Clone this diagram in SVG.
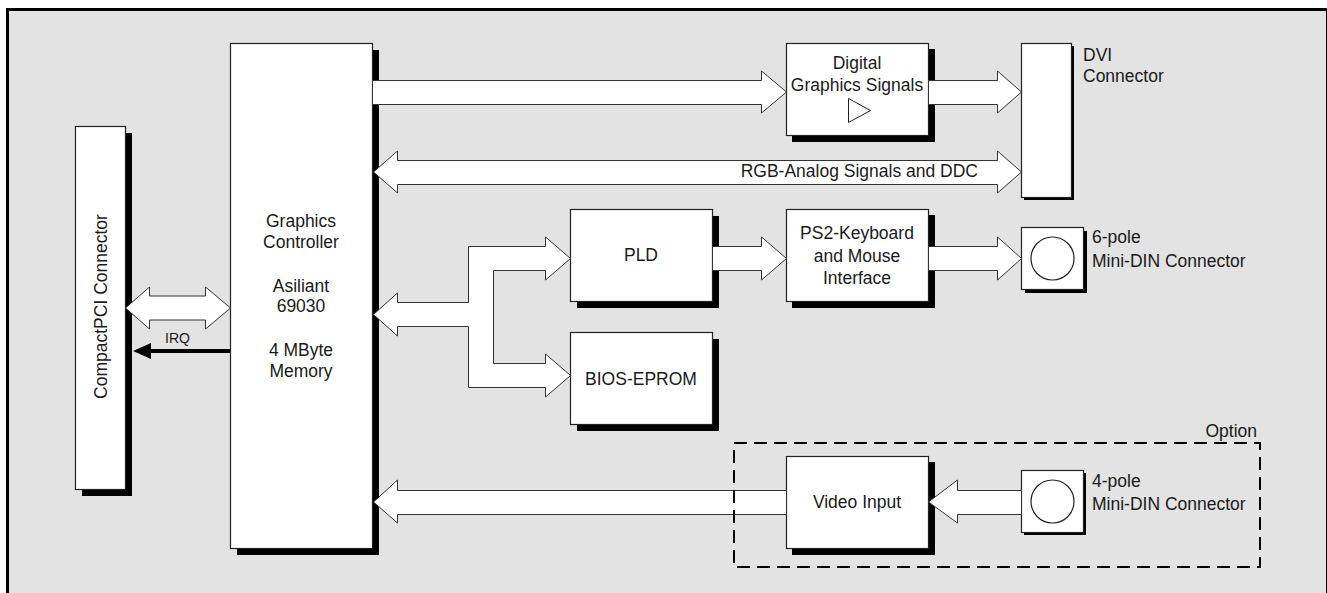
<svg xmlns="http://www.w3.org/2000/svg" width="1327" height="593" viewBox="0 0 1327 593">
<style>
text{font-family:"Liberation Sans",Arial,Helvetica,sans-serif;font-size:17.5px;fill:#1a1a1a}
.c{text-anchor:middle}
.box{fill:#fff;stroke:#222;stroke-width:1.2}
.sh{fill:#000}
.arr{fill:#fff;stroke:#333;stroke-width:1}
.opt{fill:none;stroke:#000;stroke-width:2;stroke-dasharray:13 7}
</style>
<rect x="0" y="0" width="1327" height="593" fill="#fff"/>
<rect x="7.5" y="9.5" width="1320" height="600" fill="#e3e3e3" stroke="#000" stroke-width="3"/>

<g id="compactpci">
<rect class="sh" x="82" y="133" width="50" height="363"/>
<rect class="box" x="75.5" y="126.5" width="50" height="363"/>
<text class="c" transform="translate(107,306.5) rotate(-90)">CompactPCI Connector</text>
</g>

<g id="graphics-controller">
<rect class="sh" x="237" y="50" width="142" height="505"/>
<rect class="box" x="230.5" y="43.5" width="142" height="505"/>
<text class="c" x="301" y="227">Graphics</text>
<text class="c" x="301" y="248">Controller</text>
<text class="c" x="301" y="292">Asiliant</text>
<text class="c" x="301" y="312">69030</text>
<text class="c" x="301" y="356">4 MByte</text>
<text class="c" x="301" y="377">Memory</text>
</g>

<g id="digital-graphics">
<rect class="sh" x="792" y="49" width="143" height="93"/>
<rect class="box" x="786.5" y="43.5" width="142" height="92"/>
<text class="c" x="857" y="69">Digital</text>
<text class="c" x="857" y="91">Graphics Signals</text>
<polygon points="848.5,98.5 870.5,110.5 848.5,122.5" fill="#fff" stroke="#222" stroke-width="1"/>
</g>

<g id="dvi-connector">
<rect class="sh" x="1024" y="46" width="50" height="154"/>
<rect class="box" x="1021.5" y="43.5" width="50" height="154"/>
<text x="1083" y="61">DVI</text>
<text x="1083" y="82">Connector</text>
</g>

<g id="pld">
<rect class="sh" x="577" y="216" width="142" height="92"/>
<rect class="box" x="570.5" y="209.5" width="142" height="92"/>
<text class="c" x="641" y="261">PLD</text>
</g>

<g id="bios-eprom">
<rect class="sh" x="577" y="339" width="142" height="92"/>
<rect class="box" x="570.5" y="332.5" width="142" height="92"/>
<text class="c" x="641" y="385">BIOS-EPROM</text>
</g>

<g id="ps2">
<rect class="sh" x="792" y="215" width="143" height="93"/>
<rect class="box" x="786.5" y="209.5" width="142" height="92"/>
<text class="c" x="857" y="239">PS2-Keyboard</text>
<text class="c" x="857" y="262">and Mouse</text>
<text class="c" x="857" y="284">Interface</text>
</g>

<g id="minidin6">
<rect class="sh" x="1025" y="231" width="62" height="62"/>
<rect class="box" x="1021.5" y="227.5" width="62" height="62"/>
<circle cx="1052.5" cy="258.5" r="21.5" fill="#fff" stroke="#222" stroke-width="1.2"/>
<text x="1092" y="243">6-pole</text>
<text x="1092" y="267">Mini-DIN Connector</text>
</g>

<g id="video-input">
<rect class="sh" x="792" y="462" width="143" height="93"/>
<rect class="box" x="786.5" y="456.5" width="142" height="92"/>
<text class="c" x="857" y="508">Video Input</text>
</g>

<g id="minidin4">
<rect class="sh" x="1024" y="473" width="62" height="62"/>
<rect class="box" x="1021.5" y="470.5" width="62" height="62"/>
<circle cx="1052.5" cy="501.5" r="21.5" fill="#fff" stroke="#222" stroke-width="1.2"/>
<text x="1092" y="487">4-pole</text>
<text x="1092" y="510">Mini-DIN Connector</text>
</g>

<g id="connectors">
<!-- CPCI <-> GC -->
<polygon class="arr" points="125.5,308 149.5,287 149.5,296 205.5,296 205.5,287 230.5,308 205.5,329 205.5,320 149.5,320 149.5,329"/>
<!-- IRQ -->
<line x1="230" y1="351" x2="148" y2="351" stroke="#000" stroke-width="4"/>
<polygon points="133,351 151,343 151,359" fill="#000"/>
<text x="165" y="343" style="font-size:14px">IRQ</text>
<!-- GC -> Digital -->
<polygon class="arr" points="372.5,80.5 761.5,80.5 761.5,71 786.5,92 761.5,113 761.5,104.5 372.5,104.5"/>
<!-- Digital -> DVI -->
<polygon class="arr" points="928.5,80.5 997.5,80.5 997.5,71 1021.5,92 997.5,113 997.5,104.5 928.5,104.5"/>
<!-- RGB <-> -->
<polygon class="arr" points="373.5,172 397.5,151 397.5,160.5 997.5,160.5 997.5,151 1021.5,172 997.5,193 997.5,184.5 397.5,184.5 397.5,193"/>
<text x="978" y="177" text-anchor="end">RGB-Analog Signals and DDC</text>
<!-- GC <-> PLD / BIOS -->
<path class="arr" d="M397.5,326.5 L468.5,326.5 L468.5,387.5 L545.5,387.5 L545.5,397 L570.5,375.5 L545.5,354 L545.5,363.5 L493.5,363.5 L493.5,270.5 L545.5,270.5 L545.5,280 L570.5,258.5 L545.5,237 L545.5,246.5 L468.5,246.5 L468.5,302.5 L397.5,302.5 L397.5,293 L373.5,314.5 L397.5,336 Z"/>
<!-- PLD -> PS2 -->
<polygon class="arr" points="712.5,246.5 761.5,246.5 761.5,237 786.5,258.5 761.5,280 761.5,270.5 712.5,270.5"/>
<!-- PS2 -> 6pole -->
<polygon class="arr" points="928.5,246.5 997.5,246.5 997.5,237 1021.5,258.5 997.5,280 997.5,270.5 928.5,270.5"/>
<!-- 4pole -> Video -->
<polygon class="arr" points="1021.5,490.5 957.5,490.5 957.5,480 928.5,502 957.5,523 957.5,514.5 1021.5,514.5"/>
<!-- Video -> GC -->
<polygon class="arr" points="786.5,490.5 397.5,490.5 397.5,480 373.5,502 397.5,523 397.5,514.5 786.5,514.5"/>
</g>

<g id="option">
<rect class="opt" x="734" y="443" width="526" height="124"/>
<text x="1257" y="437" text-anchor="end">Option</text>
</g>
</svg>
